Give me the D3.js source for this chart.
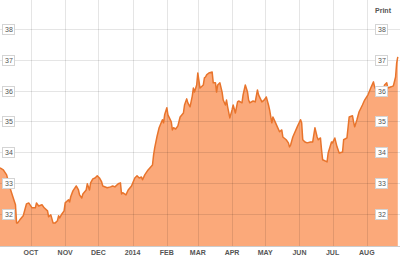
<!DOCTYPE html>
<html>
<head>
<meta charset="utf-8">
<script src="https://cdn.jsdelivr.net/npm/d3@7"></script>
<style>
  body { margin: 0; background: #fff; }
  svg { display: block; font-family: "Liberation Sans", Arial, sans-serif; }
</style>
</head>
<body>
<svg id="chart"></svg>
<script>
// daily closes, Sep 2013 - Aug 2014
const dates = [
  "2013-09-03","2013-09-06","2013-09-09","2013-09-12","2013-09-15","2013-09-17","2013-09-18","2013-09-19","2013-09-21","2013-09-24",
  "2013-09-26","2013-09-27","2013-09-29","2013-10-02","2013-10-05","2013-10-06","2013-10-08","2013-10-11","2013-10-13","2013-10-16",
  "2013-10-17","2013-10-19","2013-10-21","2013-10-23","2013-10-25","2013-10-26","2013-10-27","2013-10-29","2013-10-31","2013-11-01",
  "2013-11-04","2013-11-05","2013-11-06","2013-11-08","2013-11-11","2013-11-13","2013-11-14","2013-11-16","2013-11-17","2013-11-20",
  "2013-11-21","2013-11-23","2013-11-24","2013-11-26","2013-11-28","2013-11-30","2013-12-02","2013-12-04","2013-12-05","2013-12-09",
  "2013-12-12","2013-12-14","2013-12-16","2013-12-19","2013-12-21","2013-12-22","2013-12-23","2013-12-26","2013-12-28","2013-12-31",
  "2014-01-03","2014-01-05","2014-01-07","2014-01-09","2014-01-10","2014-01-12","2014-01-15","2014-01-19","2014-01-20","2014-01-21",
  "2014-01-23","2014-01-25","2014-01-28","2014-01-29","2014-01-30","2014-02-01","2014-02-02","2014-02-05","2014-02-06","2014-02-07",
  "2014-02-09","2014-02-11","2014-02-13","2014-02-16","2014-02-17","2014-02-19","2014-02-20","2014-02-22","2014-02-24","2014-02-25",
  "2014-02-26","2014-02-28","2014-03-01","2014-03-03","2014-03-06","2014-03-07","2014-03-08","2014-03-09","2014-03-11","2014-03-14",
  "2014-03-15","2014-03-17","2014-03-18","2014-03-19","2014-03-21","2014-03-23","2014-03-24","2014-03-26","2014-03-27","2014-03-28",
  "2014-03-30","2014-04-01","2014-04-02","2014-04-04","2014-04-06","2014-04-07","2014-04-10","2014-04-11","2014-04-13","2014-04-15",
  "2014-04-16","2014-04-17","2014-04-20","2014-04-22","2014-04-24","2014-04-25","2014-04-28","2014-04-30","2014-05-02","2014-05-04",
  "2014-05-05","2014-05-07","2014-05-08","2014-05-10","2014-05-12","2014-05-14","2014-05-16","2014-05-17","2014-05-20","2014-05-22",
  "2014-05-23","2014-05-24","2014-05-26","2014-05-30","2014-06-02","2014-06-03","2014-06-04","2014-06-06","2014-06-08","2014-06-11",
  "2014-06-13","2014-06-15","2014-06-17","2014-06-18","2014-06-20","2014-06-21","2014-06-22","2014-06-26","2014-06-27","2014-06-30",
  "2014-07-01","2014-07-03","2014-07-05","2014-07-07","2014-07-10","2014-07-11","2014-07-14","2014-07-16","2014-07-19","2014-07-20",
  "2014-07-21","2014-07-23","2014-07-25","2014-07-28","2014-07-30","2014-08-02","2014-08-05","2014-08-07","2014-08-08","2014-08-10",
  "2014-08-11","2014-08-13","2014-08-16","2014-08-17","2014-08-19","2014-08-20","2014-08-23","2014-08-25","2014-08-27","2014-08-28",
  "2014-08-29"
];
const prices = [
  33.49,33.42,33.26,32.84,32.51,32.29,31.70,31.70,31.80,31.93,
  32.19,32.32,32.35,32.19,32.19,32.35,32.25,32.29,32.19,32.09,
  31.90,31.96,31.70,31.70,31.77,31.93,31.86,31.99,32.09,32.35,
  32.45,32.38,32.55,32.74,32.90,32.77,32.61,32.51,32.64,32.77,
  32.97,32.77,33.00,33.13,33.16,33.23,33.16,33.03,32.90,32.84,
  32.87,32.90,32.87,32.97,33.00,32.64,32.68,32.61,32.77,32.90,
  33.16,33.23,33.16,33.19,33.10,33.26,33.42,33.58,33.91,34.14,
  34.49,34.79,35.05,34.95,35.21,35.44,35.21,34.98,34.72,34.79,
  34.75,34.85,35.14,35.27,35.53,35.73,35.60,35.47,35.82,36.08,
  35.95,36.18,36.57,36.08,36.18,36.41,36.44,36.51,36.57,36.60,
  36.25,36.25,35.95,36.18,36.25,35.95,35.69,35.53,35.69,35.47,
  35.11,35.37,35.53,35.27,35.63,35.66,35.60,35.86,36.18,35.95,
  35.69,35.60,35.66,35.63,36.02,35.86,35.63,35.69,35.79,35.53,
  35.37,34.95,35.14,34.98,34.82,34.66,34.72,34.49,34.40,34.30,
  34.17,34.23,34.49,34.82,35.05,34.95,34.40,34.33,34.30,34.33,
  34.33,34.79,34.49,34.40,34.46,34.07,33.75,33.68,33.97,34.33,
  34.30,34.46,34.17,33.97,34.00,34.40,34.46,35.14,35.18,34.98,
  34.82,35.05,35.31,35.53,35.69,35.86,36.12,36.28,36.12,35.95,
  36.05,35.95,36.02,36.18,36.25,36.08,36.12,36.15,36.44,36.90,
  37.09
];
const yTicks = [32, 33, 34, 35, 36, 37, 38];
const monthLabels = ["OCT","NOV","DEC","2014","FEB","MAR","APR","MAY","JUN","JUL","AUG"];
const monthStarts = ["2013-10-01","2013-11-01","2013-12-01","2014-01-01","2014-02-01","2014-03-01",
  "2014-04-01","2014-05-01","2014-06-01","2014-07-01","2014-08-01"];

const parse = d3.timeParse("%Y-%m-%d");
const data = dates.map((d, i) => ({ date: parse(d), price: prices[i] }));

const width = 400, height = 258;
const plotBottom = 246;

const svg = d3.select("#chart")
    .attr("width", width)
    .attr("height", height);

const x = d3.scaleTime()
    .domain([parse("2013-09-03"), parse("2014-08-31")])
    .range([0, width]);

const y = d3.scaleLinear()
    .domain([30.95, 38.94])
    .range([plotBottom, 0]);

// area + line
const area = d3.area()
    .x(d => x(d.date))
    .y0(plotBottom)
    .y1(d => y(d.price));

const line = d3.line()
    .x(d => x(d.date))
    .y(d => y(d.price));

svg.append("path")
    .datum(data)
    .attr("d", area)
    .attr("fill", "#fba97a");

// grid on top, faint
const grid = svg.append("g").attr("stroke", "#000").attr("stroke-opacity", 0.1);
grid.selectAll(".hgrid")
    .data(yTicks)
    .join("line")
    .attr("class", "hgrid")
    .attr("x1", 0).attr("x2", width)
    .attr("y1", d => Math.round(y(d)) + 0.5)
    .attr("y2", d => Math.round(y(d)) + 0.5);
grid.selectAll(".vgrid")
    .data(monthStarts)
    .join("line")
    .attr("class", "vgrid")
    .attr("x1", d => Math.round(x(parse(d))) + 0.5)
    .attr("x2", d => Math.round(x(parse(d))) + 0.5)
    .attr("y1", 0).attr("y2", plotBottom);

svg.append("path")
    .datum(data)
    .attr("d", line)
    .attr("fill", "none")
    .attr("stroke", "#e8742c")
    .attr("stroke-width", 1.5)
    .attr("stroke-linejoin", "round");

// bottom edge of plot
svg.append("line")
    .attr("x1", 0).attr("x2", width)
    .attr("y1", plotBottom + 0.5).attr("y2", plotBottom + 0.5)
    .attr("stroke", "#ccc");

// boxed y labels on both sides
function yLabels(cx) {
    const g = svg.append("g");
    const lab = g.selectAll("g")
        .data(yTicks)
        .join("g")
        .attr("transform", d => `translate(${cx},${Math.round(y(d))})`);
    lab.append("rect")
        .attr("x", -6.5).attr("y", -4.5)
        .attr("width", 12).attr("height", 10)
        .attr("fill", "#fff")
        .attr("stroke", "#d4d4d4");
    lab.append("text")
        .attr("text-anchor", "middle")
        .attr("y", 3)
        .attr("font-size", 7)
        .attr("fill", "#555")
        .text(d => d);
}
yLabels(9);
yLabels(382);

// month labels
svg.selectAll(".xlab")
    .data(monthStarts)
    .join("text")
    .attr("class", "xlab")
    .attr("x", d => x(parse(d)))
    .attr("y", 255)
    .attr("text-anchor", "middle")
    .attr("font-size", 7)
    .attr("font-weight", "bold")
    .attr("fill", "#555")
    .text((d, i) => monthLabels[i]);

svg.append("text")
    .attr("x", 383)
    .attr("y", 13)
    .attr("text-anchor", "middle")
    .attr("font-size", 7)
    .attr("font-weight", "bold")
    .attr("fill", "#555")
    .text("Print");
</script>
</body>
</html>
